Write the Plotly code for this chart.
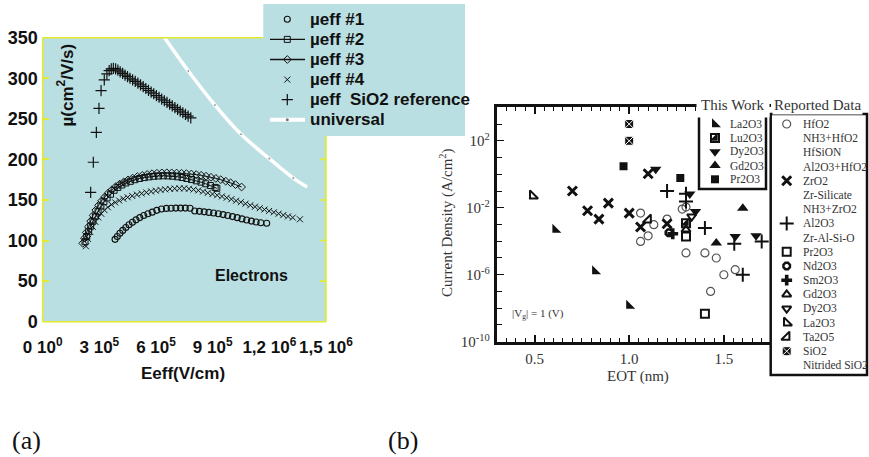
import plotly.graph_objects as go

W, H = 869, 457


def px(x):
    """horizontal pixel position -> paper fraction"""
    return x / W


def py(y):
    """vertical pixel position (from the top) -> paper fraction"""
    return 1 - y / H


# ---------------------------------------------------------------------------
# Panel (a): effective electron mobility vs effective field
# field in units of 1e5 V/cm, mobility in cm^2/V/s
# ---------------------------------------------------------------------------
eeff_1 = [3.83, 3.95, 4.09, 4.24, 4.40, 4.57, 4.75, 4.94, 5.14, 5.35, 5.57, 5.80,
          6.04, 6.29, 6.55, 6.80, 7.05, 7.30, 7.55, 7.80, 8.05, 8.30, 8.55, 8.80,
          9.05, 9.30, 9.55, 9.80, 10.05, 10.30, 10.55, 10.80, 11.05, 11.30, 11.55, 11.86]
mu_1 = [101.5, 105, 109, 112.5, 116, 119.5, 122.5, 125.5, 128.3, 130.8, 133, 135,
        137.2, 138.8, 139.6, 139.9, 140, 140, 140, 139.9, 136.4, 136, 135.4, 134.7,
        134, 133, 132, 130.8, 129.5, 128.2, 126.7, 125.3, 124, 122.9, 122, 121.3]

eeff_2 = [2.24, 2.33, 2.43, 2.54, 2.66, 2.79, 2.93, 3.08, 3.24, 3.41, 3.59, 3.78,
          3.98, 4.19, 4.41, 4.64, 4.88, 5.13, 5.38, 5.63, 5.88, 6.13, 6.38, 6.63,
          6.88, 7.13, 7.38, 7.63, 7.88, 8.13, 8.38, 8.63, 8.88, 9.13, 9.22]
mu_2 = [98.6, 105, 111, 118, 124, 130, 136, 142.5, 148, 152.5, 157, 162,
        165.5, 168.5, 171, 173, 175, 176.5, 177.6, 178.5, 179.2, 179.6, 179.8, 179.7,
        179.3, 178.6, 177.7, 176.5, 175.2, 173.6, 172, 170, 167.8, 165.5, 164.4]

eeff_3 = [2.12, 2.21, 2.31, 2.42, 2.54, 2.67, 2.81, 2.96, 3.12, 3.29, 3.47, 3.66,
          3.86, 4.07, 4.29, 4.52, 4.76, 5.01, 5.27, 5.53, 5.79, 6.05, 6.31, 6.57,
          6.83, 7.09, 7.35, 7.61, 7.87, 8.13, 8.39, 8.65, 8.91, 9.17, 9.43, 9.69,
          9.95, 10.21, 10.53]
mu_3 = [96.6, 103, 110, 117, 124, 131, 137.5, 143.5, 149, 154, 158.5, 162.5,
        166.3, 169.5, 172.3, 174.8, 177, 178.8, 180.3, 181.5, 182.4, 183, 183.4, 183.5,
        183.4, 183.2, 182.9, 182.5, 182, 181.3, 180.4, 179.3, 178, 176.6, 175, 173.2,
        171.2, 169, 166]

eeff_4 = [2.29, 2.40, 2.52, 2.65, 2.79, 2.94, 3.10, 3.27, 3.45, 3.64, 3.84, 4.05,
          4.27, 4.50, 4.74, 4.99, 5.24, 5.49, 5.74, 5.99, 6.24, 6.49, 6.74, 6.99,
          7.24, 7.49, 7.74, 7.99, 8.24, 8.49, 8.74, 8.99, 9.24, 9.49, 9.74, 9.99,
          10.24, 10.49, 10.74, 10.99, 11.24, 11.49, 11.74, 11.99, 12.24, 12.49, 12.74,
          12.99, 13.24, 13.62]
mu_4 = [93, 102, 110.5, 117, 123, 128.5, 133, 137.5, 141, 144.3, 147, 149.3,
        151.5, 153.3, 155, 156.6, 158, 159.3, 160.5, 161.5, 162.4, 163.1, 163.7, 164.1,
        164.3, 164.3, 163.8, 162.9, 161.8, 160.4, 158.8, 157.3, 155.8, 154.4, 152.8, 151,
        149.1, 147.3, 145.4, 143.5, 141.7, 139.9, 138.2, 136.5, 134.8, 133.1, 131.4,
        129.8, 128.3, 126.2]

eeff_ref = [2.54, 2.68, 2.84, 2.98, 3.09, 3.26, 3.40, 3.52, 3.63, 3.74, 3.86, 3.98,
            4.10, 4.23, 4.36, 4.49, 4.62, 4.76, 4.90, 5.04, 5.18, 5.32, 5.46, 5.60,
            5.74, 5.88, 6.02, 6.16, 6.30, 6.44, 6.58, 6.72, 6.86, 7.00, 7.14, 7.28,
            7.42, 7.56, 7.70, 7.84]
mu_ref = [159.5, 196.5, 233.4, 263, 284.7, 298, 305.5, 309.5, 311.5, 312.3, 311.5, 310,
          308, 306, 304, 302, 300, 298, 296.2, 294, 291.8, 289.6, 287.4, 285.2,
          283, 280.9, 278.7, 276.6, 274.4, 272.3, 270.2, 268, 265.9, 263.8, 261.7, 259.6,
          257.5, 255.4, 253.3, 251.2]

eeff_univ = [6.45, 7.71, 9.12, 10.5, 12.0, 13.27, 14.0]
mu_univ = [350, 309, 267, 231, 201, 177, 166]

e_tickvals = [0, 3, 6, 9, 12, 15]
e_ticktext = ["0 10<sup>0</sup>", "3 10<sup>5</sup>", "6 10<sup>5</sup>",
              "9 10<sup>5</sup>", "1,2 10<sup>6</sup>", "1,5 10<sup>6</sup>"]
mu_tickvals = [0, 50, 100, 150, 200, 250, 300, 350]

# ---------------------------------------------------------------------------
# Panel (b): gate leakage current density vs EOT at |Vg| = 1 V
# ---------------------------------------------------------------------------
tw_la2o3_eot = [0.61, 0.82, 1.00]
tw_la2o3_j = [4.9e-4, 1.6e-6, 1.4e-8]
tw_lu2o3_eot = [1.30]
tw_lu2o3_j = [1.2e-3]
tw_dy2o3_eot = [1.14, 1.32, 1.35, 1.56, 1.67]
tw_dy2o3_j = [2.0, 6.6e-2, 6.0e-3, 1.95e-4, 2.1e-4]
tw_gd2o3_eot = [1.60, 1.46]
tw_gd2o3_j = [9.5e-3, 7.8e-5]
tw_pr2o3_eot = [0.97, 1.27]
tw_pr2o3_j = [3.0, 0.59]

rep_hfo2_eot = [1.06, 1.10, 1.06, 1.13, 1.20, 1.28, 1.30, 1.30, 1.40, 1.46, 1.50, 1.56, 1.43]
rep_hfo2_j = [4.8e-3, 2.1e-4, 9.8e-5, 9.8e-4, 2.1e-3, 8.3e-3, 1.1e-2, 2.0e-5, 2.0e-5,
              1.0e-5, 1.0e-6, 2.0e-6, 1.0e-7]
rep_zro2_eot = [0.70, 0.78, 0.84, 0.89, 1.00, 1.06, 1.10, 1.20]
rep_zro2_j = [0.10, 6.6e-3, 2.1e-3, 1.9e-2, 4.8e-3, 7.1e-4, 1.07, 1.1e-3]
rep_al2o3_eot = [1.20, 1.30, 1.30, 1.40, 1.555, 1.70, 1.60]
rep_al2o3_j = [0.10, 6.9e-2, 2.4e-2, 6.2e-4, 7.1e-5, 9.8e-5, 1.0e-6]
rep_pr2o3_eot = [1.40, 1.30]
rep_pr2o3_j = [4.7e-9, 1.95e-4]
rep_nd2o3_eot = [1.21]
rep_nd2o3_j = [3.2e-4]
rep_sm2o3_eot = [1.23]
rep_sm2o3_j = [2.8e-4]
rep_gd2o3_eot = [1.30]
rep_gd2o3_j = [5.0e-4]
rep_dy2o3_eot = [1.33]
rep_dy2o3_j = [3.0e-3]
rep_la2o3_eot = [0.49]
rep_la2o3_j = [5.2e-2]
rep_ta2o5_eot = [1.10]
rep_ta2o5_j = [1.9e-3]
rep_sio2_eot = [1.00, 1.00]
rep_sio2_j = [1e3, 1e2]

j_labelled_exp = [-10, -6, -2, 2]
j_minor_exp = [-9, -8, -7, -5, -4, -3, -1, 0, 1, 3, 4]

tw_labels = ["La2O3", "Lu2O3", "Dy2O3", "Gd2O3", "Pr2O3"]
rep_labels = ["HfO2", "NH3+HfO2", "HfSiON", "Al2O3+HfO2", "ZrO2", "Zr-Silicate",
              "NH3+ZrO2", "Al2O3", "Zr-Al-Si-O", "Pr2O3", "Nd2O3", "Sm2O3", "Gd2O3",
              "Dy2O3", "La2O3", "Ta2O5", "SiO2", "Nitrided SiO2"]
a_labels = ["\u00b5eff #1", "\u00b5eff #2", "\u00b5eff #3", "\u00b5eff #4",
            "\u00b5eff  SiO2 reference", "universal"]

# ---------------------------------------------------------------------------
# marker styles
# ---------------------------------------------------------------------------
BLACK = "#111111"
GREY = "#555555"
BG_A = "#badfe2"
YELLOW = "#e2ea2e"
SANS = "Liberation Sans"
SERIF = "Liberation Serif"


def mk(symbol, size, color=BLACK, lw=1.0, lc=None):
    return dict(symbol=symbol, size=size, color=color,
                line=dict(width=lw, color=lc if lc else color))


sty_a = [mk("circle-open", 6, lw=1.1), mk("square-open", 6, lw=1.0),
         mk("diamond-open", 6, lw=1.0), mk("x-thin-open", 6, lw=1.0),
         mk("cross-thin-open", 8, lw=1.2)]

sty_tw = {
    "La2O3": mk("triangle-sw", 10, lw=0),
    "Lu2O3": mk("square-open", 8, lw=2),
    "Dy2O3": mk("triangle-down", 10, lw=0),
    "Gd2O3": mk("triangle-up", 10, lw=0),
    "Pr2O3": mk("square", 8, lw=0),
}
lu_fill = mk("triangle-se", 9, lw=0)

sty_rep = {
    "HfO2": mk("circle-open", 8, color=GREY, lw=1.2),
    "ZrO2": mk("x-thin-open", 9, lw=3),
    "Al2O3": mk("cross-thin-open", 10, lw=2),
    "Pr2O3": mk("square-open", 8, lw=2),
    "Nd2O3": mk("octagon-open", 7, lw=2.5),
    "Sm2O3": mk("cross", 9, lw=0),
    "Gd2O3": mk("triangle-up-open", 8, lw=2),
    "Dy2O3": mk("triangle-down-open", 8, lw=2),
    "La2O3": mk("triangle-sw-open", 9, lw=2),
    "Ta2O5": mk("triangle-se-open", 9, lw=2),
    "SiO2": mk("square-x", 9, color=BLACK, lw=1, lc="white"),
}

fig = go.Figure()

# ---------------- panel (a) traces ----------------
fig.add_trace(go.Scatter(x=eeff_univ, y=mu_univ, mode="lines+markers",
                         line=dict(color="white", width=3.5, shape="spline"),
                         marker=dict(size=[0, 3, 3, 3, 3, 3, 0], color="#777777"),
                         xaxis="x", yaxis="y", showlegend=False))
fig.add_trace(go.Scatter(x=eeff_1, y=mu_1, mode="markers", marker=sty_a[0],
                         xaxis="x", yaxis="y", showlegend=False))
fig.add_trace(go.Scatter(x=eeff_4, y=mu_4, mode="markers", marker=sty_a[3],
                         xaxis="x", yaxis="y", showlegend=False))
fig.add_trace(go.Scatter(x=eeff_2, y=mu_2, mode="lines+markers", marker=sty_a[1],
                         line=dict(color=BLACK, width=1),
                         xaxis="x", yaxis="y", showlegend=False))
fig.add_trace(go.Scatter(x=eeff_3, y=mu_3, mode="lines+markers", marker=sty_a[2],
                         line=dict(color=BLACK, width=1),
                         xaxis="x", yaxis="y", showlegend=False))
fig.add_trace(go.Scatter(x=eeff_ref, y=mu_ref, mode="markers", marker=sty_a[4],
                         xaxis="x", yaxis="y", showlegend=False))

# ---------------- panel (b) traces ----------------
def add_b(x, y, marker):
    fig.add_trace(go.Scatter(x=x, y=y, mode="markers", marker=marker,
                             xaxis="x2", yaxis="y2", showlegend=False))


add_b(rep_hfo2_eot, rep_hfo2_j, sty_rep["HfO2"])
add_b(rep_zro2_eot, rep_zro2_j, sty_rep["ZrO2"])
add_b(rep_al2o3_eot, rep_al2o3_j, sty_rep["Al2O3"])
add_b(rep_pr2o3_eot, rep_pr2o3_j, sty_rep["Pr2O3"])
add_b(rep_nd2o3_eot, rep_nd2o3_j, sty_rep["Nd2O3"])
add_b(rep_sm2o3_eot, rep_sm2o3_j, sty_rep["Sm2O3"])
add_b(rep_gd2o3_eot, rep_gd2o3_j, sty_rep["Gd2O3"])
add_b(rep_dy2o3_eot, rep_dy2o3_j, sty_rep["Dy2O3"])
add_b(rep_la2o3_eot, rep_la2o3_j, sty_rep["La2O3"])
add_b(rep_ta2o5_eot, rep_ta2o5_j, sty_rep["Ta2O5"])
add_b(rep_sio2_eot, rep_sio2_j, sty_rep["SiO2"])
add_b(tw_la2o3_eot, tw_la2o3_j, sty_tw["La2O3"])
add_b(tw_lu2o3_eot, tw_lu2o3_j, sty_tw["Lu2O3"])
add_b(tw_lu2o3_eot, tw_lu2o3_j, lu_fill)
add_b(tw_dy2o3_eot, tw_dy2o3_j, sty_tw["Dy2O3"])
add_b(tw_gd2o3_eot, tw_gd2o3_j, sty_tw["Gd2O3"])
add_b(tw_pr2o3_eot, tw_pr2o3_j, sty_tw["Pr2O3"])

# ---------------- legend keys (pixel-space overlay axes) ----------------
def add_key(x, y, marker=None, line=None):
    fig.add_trace(go.Scatter(x=x, y=y, mode="lines" if line else "markers",
                             marker=marker, line=line,
                             xaxis="x3", yaxis="y3", showlegend=False,
                             hoverinfo="skip"))


a_rows = [19.3 + 20.1 * i for i in range(6)]
a_key_x, a_text_x = 287.3, 308
add_key([270, 305], [a_rows[1]] * 2, line=dict(color=BLACK, width=1.3))
add_key([270, 305], [a_rows[2]] * 2, line=dict(color=BLACK, width=1.3))
add_key([270, 305], [a_rows[5]] * 2, line=dict(color="white", width=4))
for i in range(5):
    add_key([a_key_x], [a_rows[i]], marker=sty_a[i])
add_key([a_key_x], [a_rows[5]], marker=dict(size=3, color="#777777"))

tw_rows = [124.3 + 13.75 * i for i in range(5)]
tw_key_x, tw_text_x = 715, 728
for lab, yy in zip(tw_labels, tw_rows):
    add_key([tw_key_x], [yy], marker=sty_tw[lab])
    if lab == "Lu2O3":
        add_key([tw_key_x], [yy], marker=lu_fill)

rep_rows = [124 + 14.2 * i for i in range(18)]
rep_key_x, rep_text_x = 786.7, 800.5
for lab, yy in zip(rep_labels, rep_rows):
    if lab in sty_rep:
        add_key([rep_key_x], [yy], marker=sty_rep[lab])

# ---------------- shapes ----------------
shapes = []
# panel (a) background and its legend panel
shapes.append(dict(type="rect", xref="paper", yref="paper", layer="below",
                   x0=px(42.7), x1=px(326), y0=py(321.7), y1=py(37.7),
                   fillcolor=BG_A, line=dict(width=0)))
shapes.append(dict(type="rect", xref="paper", yref="paper", layer="below",
                   x0=px(263.3), x1=px(465), y0=py(136), y1=py(4),
                   fillcolor=BG_A, line=dict(width=0)))
# panel (a) yellow frame, left open where the legend panel sits
for (x0, y0, x1, y1) in [(42.7, 37.7, 42.7, 321.7), (42.7, 321.7, 326, 321.7),
                         (42.7, 37.7, 263.3, 37.7), (326, 136, 326, 321.7)]:
    shapes.append(dict(type="line", xref="paper", yref="paper", layer="above",
                       x0=px(x0), x1=px(x1), y0=py(y0), y1=py(y1),
                       line=dict(color=YELLOW, width=1.6)))
# right-hand yellow ticks of panel (a), below the legend panel
for v in mu_tickvals:
    if v <= 200:
        shapes.append(dict(type="line", xref="x domain", yref="y", layer="above",
                           x0=1, x1=1 - 6 / 283.3, y0=v, y1=v,
                           line=dict(color=YELLOW, width=1.6)))
# panel (b) legend boxes
shapes.append(dict(type="rect", xref="paper", yref="paper", layer="below",
                   x0=px(699), x1=px(766), y0=py(189), y1=py(115),
                   fillcolor="white", line=dict(color=BLACK, width=2.5)))
shapes.append(dict(type="rect", xref="paper", yref="paper", layer="below",
                   x0=px(770.7), x1=px(867), y0=py(375), y1=py(114),
                   fillcolor="white", line=dict(color=BLACK, width=2.5)))

# ---------------- annotations ----------------
ann = []


def text(x, y, s, size, family=SANS, color=BLACK, bold=False, xanchor="center",
         angle=0, bg=None, pad=1):
    ann.append(dict(x=px(x), y=py(y), xref="paper", yref="paper", text=s,
                    showarrow=False, xanchor=xanchor, yanchor="middle",
                    textangle=angle, bgcolor=bg, borderpad=pad,
                    font=dict(family=family, size=size, color=color,
                              weight="bold" if bold else "normal")))


text(65, 85.5, "\u00b5(cm<sup>2</sup>/V/s)", 17, bold=True, angle=-90)
text(183, 373, "Eeff(V/cm)", 17, bold=True)
text(251, 275, "Electrons", 16, bold=True)
for lab, yy in zip(a_labels, a_rows):
    text(a_text_x, yy, lab, 17, bold=True, xanchor="left")

GREY_TXT = "#333333"
text(446.5, 222.5, "Current Density (A/cm<sup>2</sup>)", 15, family=SERIF,
     color=GREY_TXT, angle=-90)
text(638, 376.5, "EOT (nm)", 15, family=SERIF, color=GREY_TXT)
text(538, 313.5, "|V<sub>g</sub>| = 1 (V)", 11, family=SERIF, color=GREY_TXT)
text(733, 104.5, "This Work", 15, family=SERIF, color=GREY_TXT, bg="white", pad=4)
text(817.5, 104.5, "Reported Data", 15, family=SERIF, color=GREY_TXT, bg="white")
for lab, yy in zip(tw_labels, tw_rows):
    text(tw_text_x, yy, lab, 11.5, family=SERIF, color=GREY_TXT, xanchor="left")
for lab, yy in zip(rep_labels, rep_rows):
    text(rep_text_x, yy, lab, 11.5, family=SERIF, color=GREY_TXT, xanchor="left")

text(26, 440, "(a)", 26, family=SERIF)
text(403, 440, "(b)", 26, family=SERIF)

# ---------------- layout ----------------
fig.update_layout(
    width=W, height=H, margin=dict(l=0, r=0, t=0, b=0, autoexpand=False),
    paper_bgcolor="white", plot_bgcolor="rgba(0,0,0,0)",
    showlegend=False, shapes=shapes, annotations=ann,
    xaxis=dict(domain=[px(42.7), px(326)], range=[0, 15], anchor="y",
               tickmode="array", tickvals=e_tickvals, ticktext=e_ticktext,
               tickangle=0, automargin=False,
               ticks="", showline=False, showgrid=False, zeroline=False,
               ticklabelstandoff=13,
               tickfont=dict(family=SANS, size=17, color=BLACK, weight="bold")),
    yaxis=dict(domain=[py(321.7), py(37.7)], range=[0, 350], anchor="x",
               tickmode="array", tickvals=mu_tickvals, automargin=False,
               ticks="inside", ticklen=6, tickwidth=1.6, tickcolor=YELLOW,
               showline=False, showgrid=False, zeroline=False,
               ticklabelstandoff=4,
               tickfont=dict(family=SANS, size=18, color=BLACK, weight="bold")),
    xaxis2=dict(domain=[px(496.7), px(770.7)], range=[0.3, 1.7475], anchor="y2",
                tick0=0, dtick=0.5, tickformat=".1f", tickangle=0, automargin=False,
                ticks="inside", ticklen=7, tickwidth=1.5, tickcolor=BLACK,
                minor=dict(tick0=0, dtick=0.05, ticks="inside", ticklen=4,
                           tickwidth=1, tickcolor=BLACK),
                showline=True, linewidth=3, linecolor=BLACK, mirror="allticks",
                showgrid=False, zeroline=False, ticklabelstandoff=1,
                tickfont=dict(family=SERIF, size=15, color=GREY_TXT)),
    yaxis2=dict(domain=[py(341.7), py(107.3)], type="log", range=[-10, 4],
                anchor="x2", tickmode="array", automargin=False,
                tickvals=[10.0 ** k for k in j_labelled_exp],
                ticktext=["10<sup>%d</sup>" % k for k in j_labelled_exp],
                minor=dict(tickmode="array",
                           tickvals=[10.0 ** k for k in j_minor_exp],
                           ticks="inside", ticklen=5, tickwidth=1.2,
                           tickcolor=BLACK),
                ticks="inside", ticklen=7, tickwidth=1.3, tickcolor=BLACK,
                showline=True, linewidth=3, linecolor=BLACK, mirror=False,
                showgrid=False, zeroline=False, ticklabelstandoff=1,
                tickfont=dict(family=SERIF, size=15, color=GREY_TXT)),
    xaxis3=dict(domain=[0, 1], range=[0, W], anchor="y3", visible=False,
                showgrid=False, zeroline=False, automargin=False),
    yaxis3=dict(domain=[0, 1], range=[H, 0], anchor="x3", visible=False,
                showgrid=False, zeroline=False, automargin=False),
)

fig.write_html("out.html")
